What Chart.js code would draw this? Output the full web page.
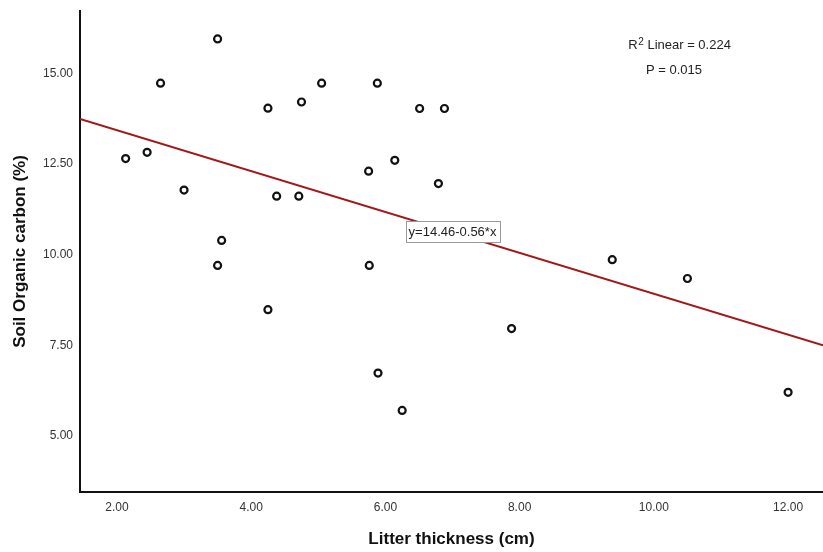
<!DOCTYPE html>
<html><head><meta charset="utf-8">
<style>html,body{margin:0;padding:0;background:#fff;}#wrap{width:823px;height:552px;}</style>
<script src="https://cdn.jsdelivr.net/npm/chart.js@4.4.0/dist/chart.umd.min.js"></script>
</head><body><div id="wrap"><canvas id="c" width="823" height="552"></canvas></div>
<script>
// Data
const litterThickness = [2.13, 2.45, 2.65, 3.00, 3.50, 3.56, 3.50, 4.25, 4.25, 4.38, 4.71, 4.75, 5.05, 5.75, 5.88, 5.76, 5.89, 6.14, 6.25, 6.51, 6.79, 6.88, 7.88, 9.38, 10.50, 12.00];
const soilOrganicCarbon = [12.61, 12.78, 14.69, 11.74, 15.91, 10.35, 9.66, 14.00, 8.44, 11.57, 11.57, 14.17, 14.69, 12.26, 14.69, 9.66, 6.69, 12.56, 5.66, 13.99, 11.92, 13.99, 7.92, 9.82, 9.30, 6.16];
const fitLineX = [1.45, 12.52];
const fitLineY = [13.70, 7.46];
const xTickValues = [2, 4, 6, 8, 10, 12];
const yTickValues = [5, 7.5, 10, 12.5, 15];
const xRange = [1.45, 12.52];
const yRange = [3.41, 16.68];
const r2Text = 'Linear = 0.224';
const pText = 'P = 0.015';
const equationText = 'y=14.46-0.56*x';
const xTitle = 'Litter thickness (cm)';
const yTitle = 'Soil Organic carbon (%)';

const FONT = "'Liberation Sans', Arial, Helvetica, sans-serif";

const annotations = {
  id: 'annotations',
  afterDraw(chart) {
    const ctx = chart.ctx;
    const xs = chart.scales.x, ys = chart.scales.y;
    ctx.save();
    ctx.fillStyle = '#222';
    ctx.textBaseline = 'middle';
    // R² Linear
    ctx.font = '13px ' + FONT;
    const rx = xs.getPixelForValue(10.38), ry = ys.getPixelForValue(15.72);
    const wR = ctx.measureText('R').width;
    ctx.font = '10px ' + FONT;
    const w2 = ctx.measureText('2').width;
    ctx.font = '13px ' + FONT;
    const wRest = ctx.measureText(' ' + r2Text).width;
    let sx = rx - (wR + w2 + wRest) / 2;
    ctx.textAlign = 'left';
    ctx.fillText('R', sx, ry);
    ctx.font = '10px ' + FONT;
    ctx.fillText('2', sx + wR + 0.5, ry - 4);
    ctx.font = '13px ' + FONT;
    ctx.fillText(' ' + r2Text, sx + wR + w2 + 0.5, ry);
    // P value
    ctx.textAlign = 'center';
    ctx.fillText(pText, xs.getPixelForValue(10.30), ys.getPixelForValue(15.03));
    // equation box
    const ex = xs.getPixelForValue(7.00), ey = ys.getPixelForValue(10.59);
    const ew = ctx.measureText(equationText).width + 6;
    const eh = 21;
    ctx.fillStyle = '#fff';
    ctx.fillRect(Math.round(ex - ew / 2) + 0.5, Math.round(ey - eh / 2) + 0.5, Math.round(ew), eh);
    ctx.strokeStyle = '#999';
    ctx.lineWidth = 1;
    ctx.strokeRect(Math.round(ex - ew / 2) + 0.5, Math.round(ey - eh / 2) + 0.5, Math.round(ew), eh);
    ctx.fillStyle = '#222';
    ctx.fillText(equationText, ex, ey + 1);
    ctx.restore();
  }
};

new Chart(document.getElementById('c'), {
  type: 'scatter',
  data: {
    datasets: [
      {
        type: 'line',
        data: fitLineX.map((x, i) => ({x, y: fitLineY[i]})),
        borderColor: '#a51616',
        borderWidth: 2,
        pointRadius: 0,
        fill: false,
        order: 2
      },
      {
        data: litterThickness.map((x, i) => ({x, y: soilOrganicCarbon[i]})),
        pointRadius: 3.5,
        pointBorderWidth: 2.2,
        pointBorderColor: '#111',
        pointBackgroundColor: '#fff',
        order: 1
      }
    ]
  },
  options: {
    responsive: false,
    devicePixelRatio: 1,
    animation: false,
    layout: {autoPadding: false, padding: {top: 11, left: 0, right: 0, bottom: 0}},
    plugins: {legend: {display: false}, tooltip: {enabled: false}},
    scales: {
      x: {
        type: 'linear', min: xRange[0], max: xRange[1],
        afterBuildTicks: s => { s.ticks = xTickValues.map(v => ({value: v})); },
        afterFit: s => { s.height = 60; s.paddingLeft = 0; s.paddingRight = 0; },
        grid: {display: false, drawTicks: false},
        border: {display: true, color: '#111', width: 2},
        ticks: {padding: 8.5, color: '#333', font: {family: FONT, size: 12}, callback: v => Number(v).toFixed(2), maxRotation: 0, autoSkip: false},
        title: {display: true, text: xTitle, color: '#111', font: {family: FONT, size: 17, weight: 'bold'}, padding: {top: 0, bottom: 2}}
      },
      y: {
        type: 'linear', min: yRange[0], max: yRange[1],
        afterBuildTicks: s => { s.ticks = yTickValues.map(v => ({value: v})); },
        afterFit: s => { s.width = 80; s.paddingTop = 0; s.paddingBottom = 0; },
        grid: {display: false, drawTicks: false},
        border: {display: true, color: '#111', width: 2},
        ticks: {padding: 7, labelOffset: 1.5, color: '#333', font: {family: FONT, size: 12}, callback: v => Number(v).toFixed(2), autoSkip: false},
        title: {display: true, text: yTitle, color: '#111', font: {family: FONT, size: 17, weight: 'bold'}, padding: {top: 10, bottom: 0}}
      }
    }
  },
  plugins: [annotations]
});
</script>
</body></html>
